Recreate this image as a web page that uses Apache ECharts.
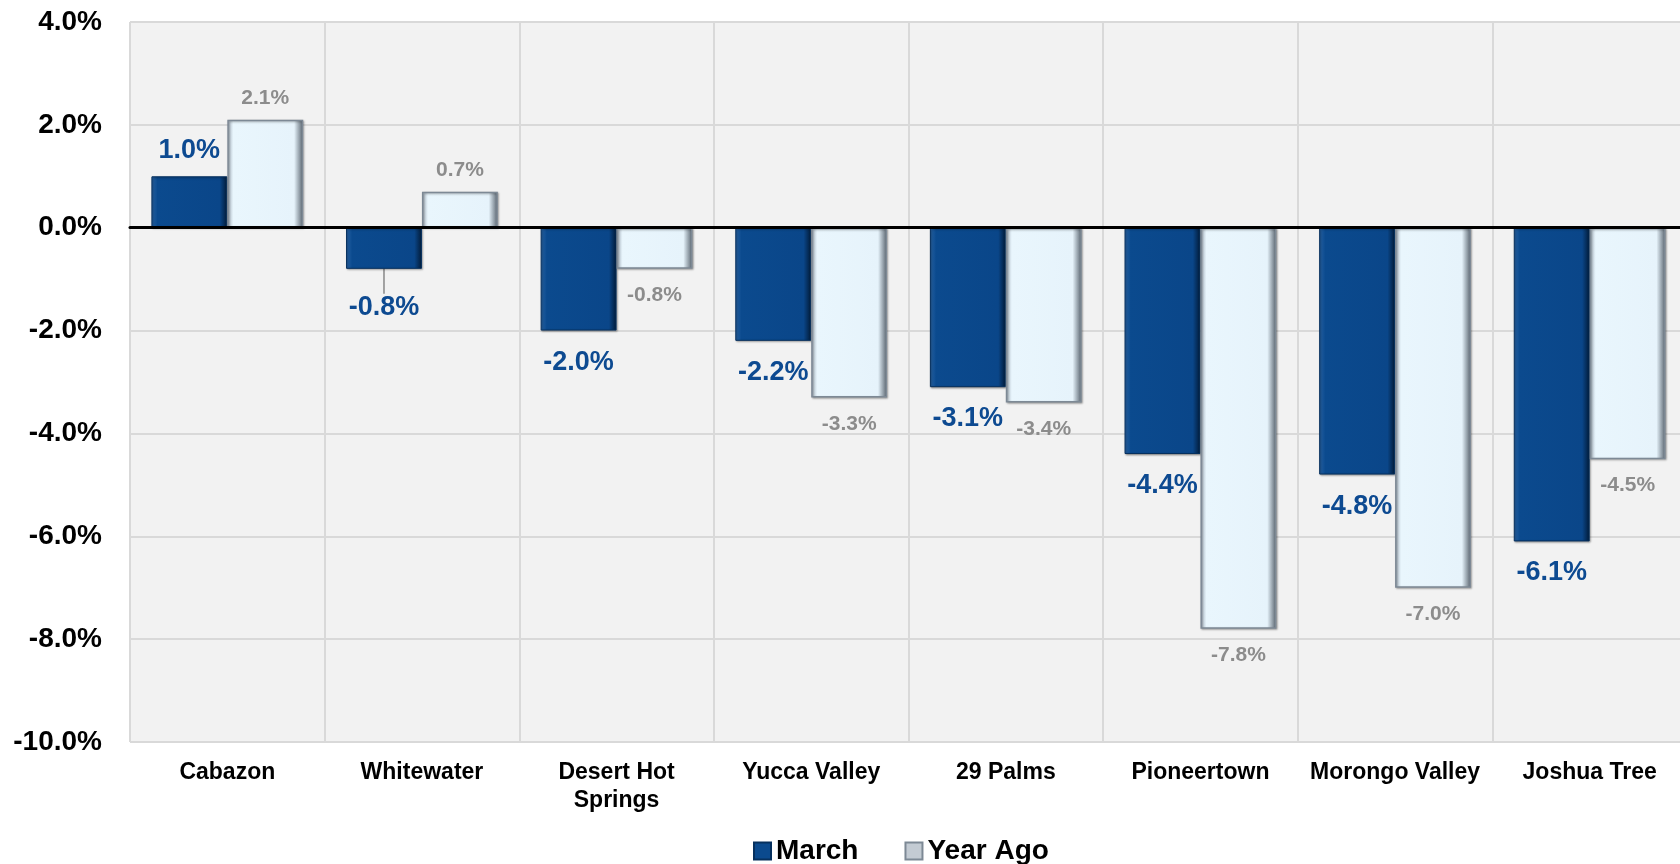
<!DOCTYPE html>
<html>
<head>
<meta charset="utf-8">
<script src="https://cdn.jsdelivr.net/npm/echarts@6/dist/echarts.min.js"></script>
<style>
  html, body { margin: 0; padding: 0; background: #fff; }
  #chart { width: 1680px; height: 864px; }
</style>
</head>
<body>
<div id="chart"></div>
<script>
const categories = ["Cabazon", "Whitewater", "Desert Hot\nSprings", "Yucca Valley", "29 Palms", "Pioneertown", "Morongo Valley", "Joshua Tree"];
const march = [1.0, -0.8, -2.0, -2.2, -3.1, -4.4, -4.8, -6.1];
const yearAgo = [2.1, 0.7, -0.8, -3.3, -3.4, -7.8, -7.0, -4.5];

const font = "Liberation Sans, Arial, sans-serif";

const chart = echarts.init(document.getElementById("chart"));

const darkFill = new echarts.graphic.LinearGradient(0, 0, 1, 0, [
  { offset: 0, color: "#2a66a8" },
  { offset: 0.08, color: "#0b4a8e" },
  { offset: 0.9, color: "#0a4689" },
  { offset: 1, color: "#021a36" }
]);
const lightFill = new echarts.graphic.LinearGradient(0, 0, 1, 0, [
  { offset: 0, color: "#a9b5c1" },
  { offset: 0.08, color: "#e9f6fd" },
  { offset: 0.88, color: "#e6f3fb" },
  { offset: 1, color: "#56616c" }
]);

// positive bars keep their label closer to the bar end
const marchData = march.map((v, i) => ({
  value: v,
  label: { distance: v > 0 ? 12 : 18 },
  labelLine: { show: i === 1 }
}));
const yearAgoData = yearAgo.map(v => ({
  value: v,
  label: { distance: v > 0 ? 11 : 16 }
}));

let option = {
  animation: false,
  backgroundColor: "#ffffff",
  textStyle: { fontFamily: font },
  grid: {
    left: 130,
    top: 22,
    width: 1557,
    bottom: 122,
    show: true,
    backgroundColor: "#f2f2f2",
    borderWidth: 0,
    outerBoundsMode: "none"
  },
  legend: {
    left: 748,
    top: 832,
    itemWidth: 17,
    itemHeight: 17,
    itemGap: 46,
    itemTextGap: 4,
    icon: "rect",
    textStyle: { fontFamily: font, fontSize: 28, fontWeight: "bold", color: "#000" },
    data: [
      { name: "March", itemStyle: { color: "#0b4a8e" } },
      { name: "Year Ago", itemStyle: { color: "#c3cbd3" } }
    ]
  },
  xAxis: {
    type: "category",
    data: categories,
    z: 5,
    axisLine: { onZero: true, lineStyle: { color: "#000", width: 3 } },
    axisTick: { show: false },
    splitLine: { show: true, interval: 0, lineStyle: { color: "#d9d9d9", width: 2 } },
    axisLabel: {
      interval: 0,
      margin: 17,
      fontFamily: font,
      fontSize: 23,
      fontWeight: "bold",
      color: "#000",
      lineHeight: 28
    }
  },
  yAxis: {
    type: "value",
    min: -10,
    max: 4,
    interval: 2,
    axisLine: { show: false },
    axisTick: { show: false },
    splitLine: { lineStyle: { color: "#d9d9d9", width: 2 } },
    axisLabel: {
      margin: 28,
      fontFamily: font,
      fontSize: 28,
      fontWeight: "bold",
      color: "#000",
      formatter: v => v.toFixed(1) + "%"
    }
  },
  series: [
    {
      name: "March",
      type: "bar",
      data: marchData,
      barWidth: "39%",
      barGap: "0%",
      itemStyle: {
        color: darkFill,
        borderColor: "#06305e",
        borderWidth: 1,
        shadowColor: "rgba(0,0,0,0.35)",
        shadowBlur: 2,
        shadowOffsetX: 1,
        shadowOffsetY: 1
      },
      label: {
        show: true,
        position: "outside",
        fontFamily: font,
        fontSize: 27,
        fontWeight: "bold",
        color: "#0d4a91",
        formatter: p => p.value.toFixed(1) + "%"
      },
      labelLayout: p => (p.dataIndex === 1 ? { dy: 7 } : {}),
      labelLine: { show: false, lineStyle: { color: "#888", width: 1.5 } }
    },
    {
      name: "Year Ago",
      type: "bar",
      data: yearAgoData,
      barWidth: "39%",
      barGap: "0%",
      itemStyle: {
        color: lightFill,
        borderColor: "#7d8995",
        borderWidth: 1.5,
        shadowColor: "rgba(0,0,0,0.3)",
        shadowBlur: 2,
        shadowOffsetX: 1,
        shadowOffsetY: 1
      },
      label: {
        show: true,
        position: "outside",
        fontFamily: font,
        fontSize: 21,
        fontWeight: "bold",
        color: "#8c8c8c",
        formatter: p => p.value.toFixed(1) + "%"
      }
    }
  ]
};

chart.setOption(option);
</script>
</body>
</html>
